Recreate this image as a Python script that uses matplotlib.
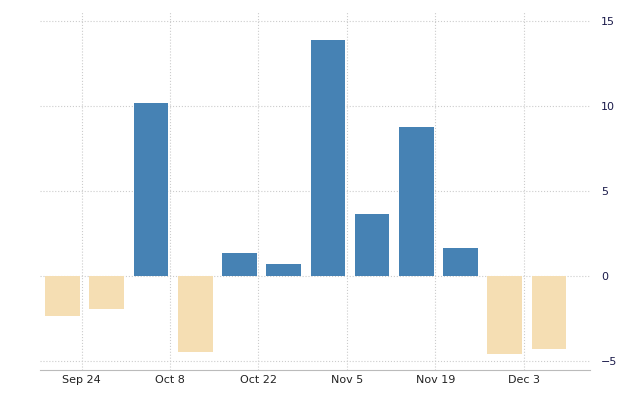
import matplotlib
matplotlib.use("Agg")
import matplotlib.pyplot as plt
import matplotlib.dates as mdates
import numpy as np
import datetime as dt

dates = ["2018-09-21","2018-09-28","2018-10-05","2018-10-12","2018-10-19","2018-10-26",
         "2018-11-02","2018-11-09","2018-11-16","2018-11-23","2018-11-30","2018-12-07"]
values = [-2.35, -1.9, 10.2, -4.45, 1.4, 0.75, 13.9, 3.65, 8.75, 1.65, -4.55, -4.25]
tick_dates = ["2018-09-24","2018-10-08","2018-10-22","2018-11-05","2018-11-19","2018-12-03"]
tick_labels = ["Sep 24","Oct 8","Oct 22","Nov 5","Nov 19","Dec 3"]

x = [dt.datetime.strptime(d, "%Y-%m-%d") for d in dates]
colors = ["#4682B4" if v >= 0 else "#F5DEB3" for v in values]

fig = plt.figure(figsize=(6.4, 4.0), dpi=100)
ax = fig.add_axes([40/640, 0.075, 550/640, 0.894])
ax.bar(x, values, width=5.5, color=colors, zorder=2)
ax.set_xlim(dt.datetime(2018, 9, 17, 10), dt.datetime(2018, 12, 13, 12))
ax.set_ylim(-5.5, 15.5)
ax.set_yticks([-5, 0, 5, 10, 15])
ax.yaxis.tick_right()
ax.set_xticks([dt.datetime.strptime(d, "%Y-%m-%d") for d in tick_dates])
ax.set_xticklabels(tick_labels)
ax.tick_params(axis="both", length=0, labelsize=8, colors="#222222")
ax.tick_params(axis="y", pad=8, colors="#1a1a4a")
ax.grid(True, color="#cccccc", linestyle=":", linewidth=0.8, zorder=0)
for s in ["top", "left", "right"]:
    ax.spines[s].set_visible(False)
ax.spines["bottom"].set_color("#bbbbbb")
fig.savefig("out.png", dpi=100)
